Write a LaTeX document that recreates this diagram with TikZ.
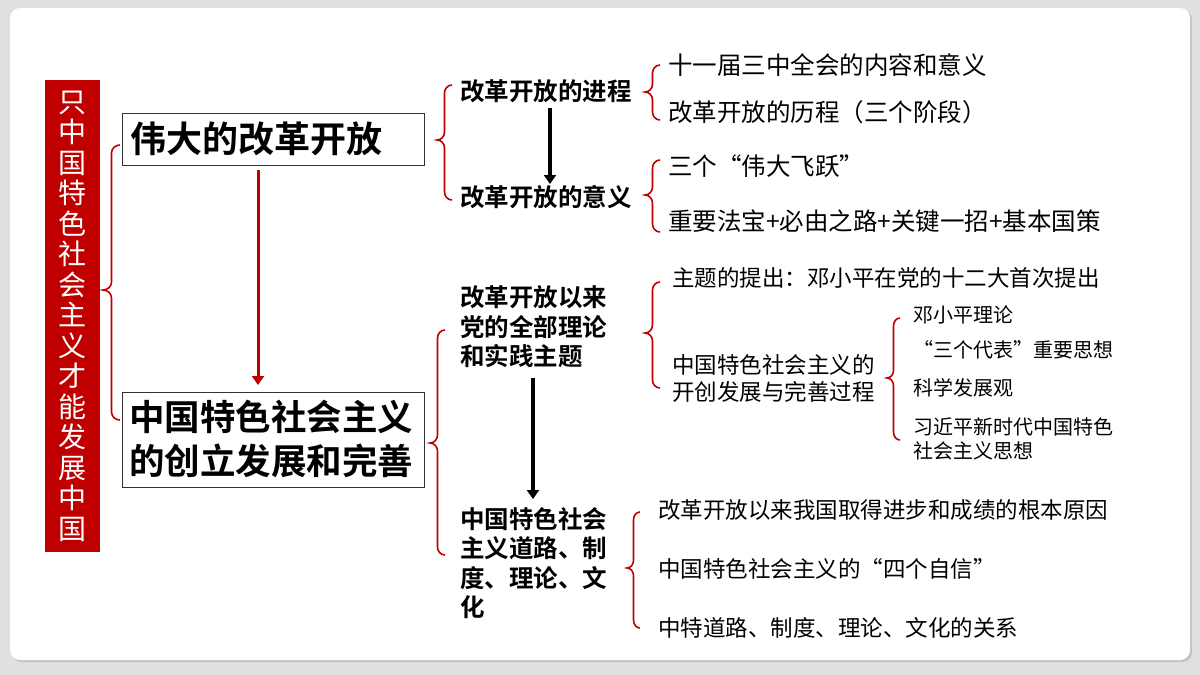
\documentclass[tikz,border=0pt]{standalone}
\usepackage{fontspec}
\newfontfamily\cjk{Noto Sans CJK SC}
\newfontfamily\cjkb{Noto Sans CJK SC Bold}
\usetikzlibrary{arrows.meta,shadows}
\definecolor{dred}{RGB}{192,0,0}
\newcommand\rbr[5]{%
  \pgfmathsetmacro\bm{(#1+#2)/2}\pgfmathsetmacro\ya{#3+8}\pgfmathsetmacro\yb{#4-8}%
  \pgfmathsetmacro\yc{#4+8}\pgfmathsetmacro\yd{#5-8}%
  \draw[bracel] (#2,#3) to[out=180,in=90] (\bm,\ya) -- (\bm,\yb) to[out=-90,in=0] (#1,#4) to[out=0,in=90] (\bm,\yc) -- (\bm,\yd) to[out=-90,in=180] (#2,#5);}
\begin{document}
\begin{tikzpicture}[x=1pt,y=-1pt,
  bracel/.style={dred,line width=1.6pt},
  hd/.style={anchor=west,inner sep=0pt,align=left,font=\cjkb\fontsize{24.5}{29.5}\selectfont},
  it/.style={anchor=west,inner sep=0pt,align=left,font=\cjk\fontsize{24.5}{28}\selectfont},
  sm/.style={anchor=west,inner sep=0pt,align=left,font=\cjk\fontsize{20}{24}\selectfont},
  arr/.style={line width=4pt,-{Triangle[length=9pt,width=12pt]}},
  bigbox/.style={draw=black!80,line width=1pt,fill=white,anchor=north west,inner sep=0pt}]
\useasboundingbox (0,0) rectangle (1200,675);
\fill[black!12] (0,0) rectangle (1200,675);
\fill[white,rounded corners=10pt,drop shadow={opacity=0.3}] (10,8) rectangle (1190,660);
% left red box
\node[fill=dred,minimum width=55pt,minimum height=472pt,inner sep=0pt,anchor=north west] (red) at (45,80) {};
\node[text=white,align=center,font=\cjk\fontsize{28}{30.5}\selectfont,inner sep=0pt] (redt) at (red.center) {只\\中\\国\\特\\色\\社\\会\\主\\义\\才\\能\\发\\展\\中\\国};
\rbr{103}{120}{145}{290}{420}
% big boxes
\node[bigbox,minimum width=302pt,minimum height=52pt] (b1) at (122,113) {};
\node[anchor=west,inner sep=0pt,font=\cjkb\fontsize{36}{42}\selectfont] (b1t) at (130,139) {伟大的改革开放};
\node[bigbox,minimum width=302pt,minimum height=95pt] (b2) at (122,392) {};
\node[anchor=west,inner sep=0pt,align=left,font=\cjkb\fontsize{35.5}{44}\selectfont] (b2t) at (129,439) {中国特色社会主义\\的创立发展和完善};
\coordinate (a1s) at (258,170);
\coordinate (a1e) at (258,385);
\draw[dred,arr,line width=3pt] (a1s) -- (a1e);
% upper branch
\rbr{437}{452}{85}{140}{200}
\node[hd] (h1) at (460,91) {改革开放的进程};
\node[hd] (h2) at (460,197) {改革开放的意义};
\coordinate (a2s) at (550,108);
\coordinate (a2e) at (550,184);
\draw[black,arr] (a2s) -- (a2e);
\rbr{645}{660}{65}{92}{120}
\node[it] (t1) at (668,65) {十一届三中全会的内容和意义};
\node[it] (t2) at (668,112) {改革开放的历程（三个阶段）};
\rbr{645}{660}{160}{195}{232}
\node[it] (t3) at (668,166) {三个“伟大飞跃”};
\node[it] (t4) at (668,221) {重要法宝+必由之路+关键一招+基本国策};
% lower branch
\rbr{430}{445}{330}{443}{555}
\node[hd] (h3) at (460,327) {改革开放以来\\党的全部理论\\和实践主题};
\node[hd] (h4) at (460,563) {中国特色社会\\主义道路、制\\度、理论、文\\化};
\coordinate (a3s) at (533,378);
\coordinate (a3e) at (533,499);
\draw[black,arr] (a3s) -- (a3e);
\rbr{645}{660}{282}{333}{388}
\node[it,font=\cjk\fontsize{22.5}{27}\selectfont] (t5) at (672,278) {主题的提出：邓小平在党的十二大首次提出};
\node[it,font=\cjk\fontsize{22.5}{27}\selectfont] (t6) at (672,378) {中国特色社会主义的\\开创发展与完善过程};
\rbr{887}{900}{318}{378}{440}
\node[sm] (s1) at (913,315) {邓小平理论};
\node[sm] (s2) at (913,350) {“三个代表”重要思想};
\node[sm] (s3) at (913,388) {科学发展观};
\node[sm] (s4) at (913,439) {习近平新时代中国特色\\社会主义思想};
\rbr{627}{640}{512}{568}{628}
\node[it,font=\cjk\fontsize{22.5}{27}\selectfont] (t7) at (658,510) {改革开放以来我国取得进步和成绩的根本原因};
\node[it,font=\cjk\fontsize{22.5}{27}\selectfont] (t8) at (658,569) {中国特色社会主义的“四个自信”};
\node[it,font=\cjk\fontsize{22.5}{27}\selectfont] (t9) at (658,628) {中特道路、制度、理论、文化的关系};
\end{tikzpicture}
\end{document}
